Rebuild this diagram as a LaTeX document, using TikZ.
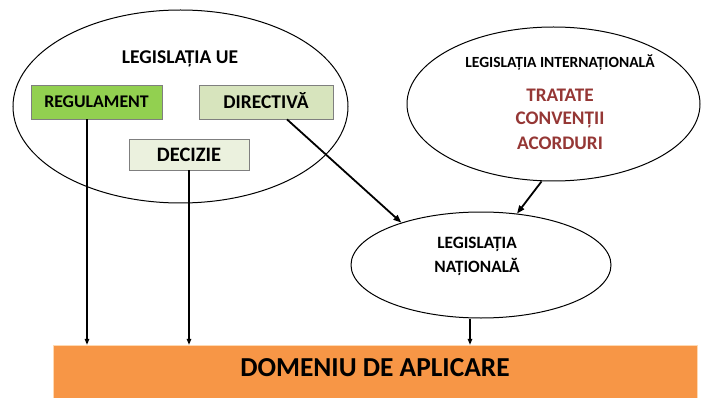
\documentclass[tikz,border=0pt]{standalone}
\usepackage{fontspec}
\setmainfont{Carlito}
\usetikzlibrary{shapes.geometric,arrows.meta,positioning}
\definecolor{regGreen}{HTML}{92D050}
\definecolor{dirGreen}{HTML}{D7E4BD}
\definecolor{decGreen}{HTML}{EBF1DE}
\definecolor{domOrange}{HTML}{F79646}
\definecolor{tratRed}{HTML}{953735}
\definecolor{boxEdge}{HTML}{7F7F7F}

\begin{document}
\begin{tikzpicture}[
    x=1pt,y=-1pt,
    fs/.style={font=\bfseries\fontsize{#1}{#1}\selectfont,text height={0.644*#1pt},text depth=0pt},
    oval/.style={ellipse,draw,line width=1pt,inner sep=0pt},
    legbox/.style={rectangle,draw=boxEdge,line width=0.8pt,inner sep=0pt},
    title/.style={inner sep=0pt},
    arr/.style={-{Triangle[length=6pt,width=4.5pt]},line width=1.3pt},
    bigarr/.style={-{Triangle[length=8pt,width=6pt]},line width=1.8pt},
    ]
    \useasboundingbox (0,0) rectangle (701,398);
    % uniunea europeana
    \node[oval,minimum width=335,minimum height=193] (ue) at (180.5,106.5) {};
    \node[title,fs=19.5] (ueTitle) at (180,57) {LEGISLAȚIA UE};
    \node[legbox,fill=regGreen,minimum width=131,minimum height=34,fs=17.8] (reg) at (96.5,102) {REGULAMENT};
    \node[legbox,fill=dirGreen,minimum width=134,minimum height=34,fs=19.5] (dir) at (266,102) {DIRECTIVĂ};
    \node[legbox,fill=decGreen,minimum width=120,minimum height=31,fs=20.5] (dec) at (189,154.5) {DECIZIE};
    % internationala
    \node[oval,minimum width=293,minimum height=154] (int) at (553.5,104) {};
    \node[title,fs=15.5] (intTitle) at (560,63) {LEGISLAȚIA INTERNAȚIONALĂ};
    \node[title,text=tratRed,fs=19.2] (trat) at (560,95) {TRATATE};
    \node[title,text=tratRed,fs=19.2] (conv) at (560,118) {CONVENȚII};
    \node[title,text=tratRed,fs=19.2] (acord) at (560,143) {ACORDURI};
    % nationala
    \node[oval,minimum width=260,minimum height=106] (nat) at (481,265) {};
    \node[title,fs=17.3] (natA) at (477,243) {LEGISLAȚIA};
    \node[title,fs=17.3] (natB) at (477,267) {NAȚIONALĂ};
    % domeniu
    \node[rectangle,fill=domOrange,draw=orange!30,minimum width=644,minimum height=55,inner sep=0pt,
      fs=27.4,text depth=9pt] (dom) at (375,372.5) {DOMENIU DE APLICARE};
    % sageti
    \draw[arr] ([xshift=-9.5pt]reg.south) -- ([xshift=-9.5pt]reg.south |- dom.north);
    \draw[arr] (dec.south) -- (dec.south |- dom.north);
    \draw[arr] ([xshift=-11pt]nat.south) -- ([xshift=-11pt]nat.south |- dom.north);
    \draw[bigarr] ([xshift=21pt]dir.south) -- (nat.152);
    \draw[bigarr] ([xshift=-12pt]int.south) -- (nat.55);
  \end{tikzpicture}
\end{document}
